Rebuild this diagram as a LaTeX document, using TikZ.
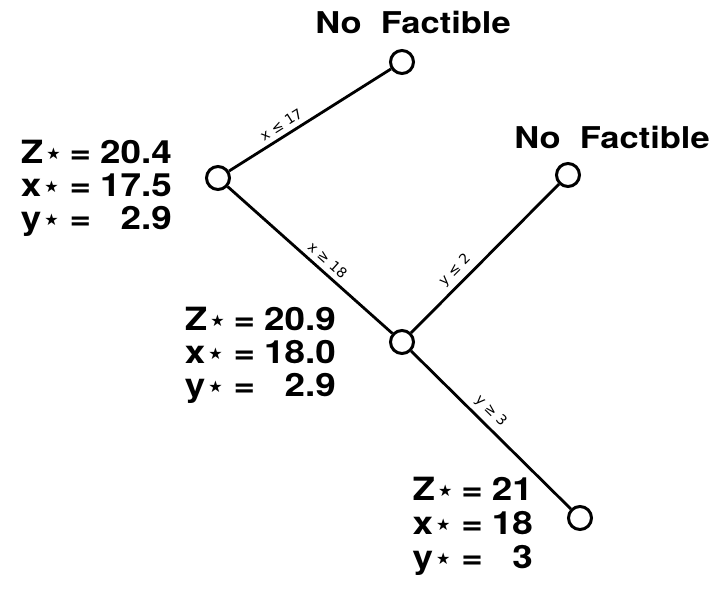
\documentclass[tikz,border=0pt]{standalone}
\usepackage{fontspec}
\setmainfont{TeX Gyre Heros}[FakeStretch=1.15]
\newfontfamily\starfont{DejaVu Sans}
\usetikzlibrary{positioning}
\newcommand{\sv}[2]{#1\hspace{3pt}{\starfont\fontsize{16}{16}\selectfont\raisebox{0.25em}{★}} & = & #2}

\begin{document}
\begin{tikzpicture}[x=1pt, y=-1pt,
    nodo/.style={circle, draw, line width=3pt, minimum size=23pt, inner sep=0pt},
    rama/.style={line width=2.8pt},
    cota/.style={sloped, above, font=\starfont\fontsize{14}{14}\selectfont, inner sep=5pt},
    valores/.style={font=\bfseries\fontsize{32}{33}\selectfont, inner sep=0pt},
    titulo/.style={font=\bfseries\fontsize{30}{32}\selectfont, inner sep=0pt}]
    \useasboundingbox (0,0) rectangle (728,593);
    % nodos del arbol
    \node[nodo] (n0) at (218,178) {};
    \node[nodo] (n1) at (402,62) {};
    \node[nodo] (n2) at (402,342) {};
    \node[nodo] (n3) at (568,175) {};
    \node[nodo] (n4) at (580,518) {};
    % ramas
    \draw[rama] (n0) -- node[cota, pos=0.36] {x ≤ 17} (n1);
    \draw[rama] (n0) -- node[cota, pos=0.56] {x ≥ 18} (n2);
    \draw[rama] (n2) -- node[cota, pos=0.36] {y ≤ 2} (n3);
    \draw[rama] (n2) -- node[cota, pos=0.44] {y ≥ 3} (n4);
    % etiquetas
    \node[titulo] (nf1) at (413,22) {No\ \ Factible};
    \node[titulo] (nf2) at (612,137) {No\ \ Factible};
    \node[valores, anchor=east] (v0) at (172,190) {%
        \begin{tabular}{@{}l@{\hspace{9pt}}c@{\hspace{9pt}}r@{}}
        \sv{Z}{20.4}\\ \sv{x}{17.5}\\ \sv{y}{2.9}
        \end{tabular}};
    \node[valores, anchor=east] (v2) at (336,357) {%
        \begin{tabular}{@{}l@{\hspace{9pt}}c@{\hspace{9pt}}r@{}}
        \sv{Z}{20.9}\\ \sv{x}{18.0}\\ \sv{y}{2.9}
        \end{tabular}};
    \node[valores, anchor=east] (v4) at (533,528) {%
        \begin{tabular}{@{}l@{\hspace{9pt}}c@{\hspace{9pt}}r@{}}
        \sv{Z}{21}\\[1pt] \sv{x}{18}\\[1pt] \sv{y}{3}
        \end{tabular}};
\end{tikzpicture}
\end{document}
